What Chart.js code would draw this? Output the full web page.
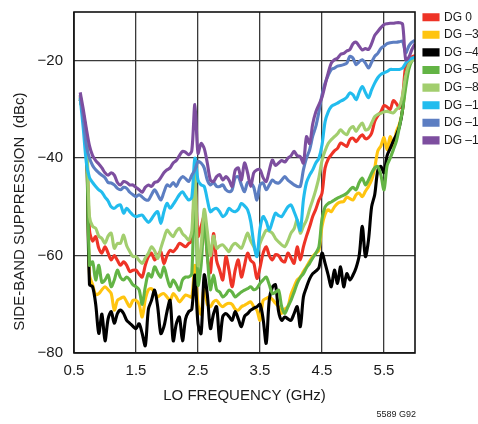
<!DOCTYPE html>
<html><head><meta charset="utf-8">
<script src="https://cdn.jsdelivr.net/npm/chart.js@4.4.1/dist/chart.umd.min.js"></script>
<style>
html,body{margin:0;padding:0;background:#fff;overflow:hidden;width:478px;height:424px}
#wrap{position:relative;width:478px;height:424px}
</style></head>
<body><div id="wrap"><canvas id="c" width="478" height="424"></canvas></div>
<script>
// ---------- DATA ----------
const freqGHz = [
0.60,0.65,0.70,0.75,0.80,0.85,0.90,0.95,1.00,1.05,
1.10,1.15,1.20,1.25,1.30,1.35,1.40,1.45,1.50,1.55,
1.60,1.65,1.70,1.75,1.80,1.85,1.90,1.95,2.00,2.05,
2.10,2.15,2.20,2.25,2.30,2.35,2.40,2.45,2.50,2.55,
2.60,2.65,2.70,2.75,2.80,2.85,2.90,2.95,3.00,3.05,
3.10,3.15,3.20,3.25,3.30,3.35,3.40,3.45,3.50,3.55,
3.60,3.65,3.70,3.75,3.80,3.85,3.90,3.95,4.00,4.05,
4.10,4.15,4.20,4.25,4.30,4.35,4.40,4.45,4.50,4.55,
4.60,4.65,4.70,4.75,4.80,4.85,4.90,4.95,5.00,5.05,
5.10,5.15,5.20,5.25,5.30,5.35,5.40,5.45,5.50,5.55,
5.60,5.65,5.70,5.75,5.80,5.85,5.90,5.95,6.00];

const dg0 = [
-27.3,-31,-35.5,-54.8,-57,-56.1,-58.5,-59.5,-58.2,-59.5,
-60.9,-60,-61,-62,-61.3,-62,-63.3,-63,-63,-63.8,
-64.4,-62,-60.2,-59.5,-60.9,-60,-59.2,-61.6,-60,-58.9,
-59.2,-58.5,-57.5,-57.8,-58.2,-57.5,-57,-45,-56,-54,
-52,-60,-63.5,-55.5,-61,-63,-65,-60.2,-63,-66.4,
-63,-60.9,-64.4,-62,-59.5,-61,-61.6,-64.7,-62.5,-59.5,
-58.2,-60,-60.9,-59.8,-60,-61,-61.3,-59.5,-60.5,-61.6,
-58.2,-60.9,-58.2,-56,-54.1,-52,-50.5,-48.6,-47.2,-42,
-40.2,-39.3,-38.5,-38,-36.9,-37.2,-37.6,-36.2,-35.9,-36.6,
-35.8,-35.2,-36,-35.8,-34.9,-32.5,-31.3,-30.5,-29.2,-29.5,
-30,-28.2,-28.8,-29.7,-27.3,-21,-19.8,-19.2,-19];

const dgMinus3 = [
-28,-31,-36,-64,-66,-68,-67.8,-67,-66.4,-67,
-67.8,-71.2,-69.2,-68.8,-68.5,-69.5,-70.5,-69.2,-69.2,-70,
-72.6,-69,-67,-66.8,-67.5,-68.5,-68,-67.8,-68.5,-69.2,
-67.8,-68.5,-69.5,-68.8,-68.1,-68.3,-68.5,-62,-70,-72,
-66,-70,-70.5,-69.5,-69.2,-70,-70.5,-70,-69.8,-70,
-71,-71.2,-70.5,-70.2,-69.8,-69.5,-70.5,-71.2,-73.3,-69.2,
-68.8,-68.5,-69,-69.8,-70.5,-71.9,-71,-70.5,-68,-66.4,
-65,-64.4,-63.3,-62.3,-61.2,-60.2,-59.5,-58.9,-54,-51.5,
-50.6,-51,-50,-49.3,-49,-48.9,-48,-48.3,-48.6,-47.5,
-47.2,-47.9,-46.8,-45.8,-44.5,-42,-38.5,-37.5,-35.8,-38.3,
-35.6,-37.6,-34.5,-33,-30,-24.6,-21,-19.8,-19.5];

const dgMinus4 = [
-28,-31,-36,-66,-66.4,-70,-76,-72,-77.5,-73,
-71.5,-73.9,-71.9,-71.2,-71.9,-73.3,-73.9,-74.5,-75,-74,
-76,-78.5,-71,-69.2,-67.1,-70.5,-76,-74.6,-71.5,-69.2,
-77.5,-74,-72.6,-77.5,-73,-71.5,-71,-64,-74,-76,
-64,-68,-75,-72,-70.5,-77.5,-72.5,-71.9,-72.5,-73.3,
-71.5,-73,-74.6,-72.5,-71.9,-71.2,-70.8,-70.5,-70,-73,
-78,-69,-66.5,-66,-71.5,-73.3,-72.6,-73,-73.3,-71.9,
-70.5,-74.6,-68.5,-66.5,-64.8,-63.7,-63.2,-62.5,-59.5,-61.6,
-64,-66.4,-63,-65.7,-62.3,-66.4,-63.7,-65,-64,-62.5,
-60,-54,-60.2,-56.8,-50,-47.5,-42.5,-41.7,-43,-39.5,
-38,-36.5,-35.2,-33.5,-30,-23.2,-21,-19.8,-19.5];

const dgMinus5 = [
-27.8,-31,-36,-62,-61.3,-65,-62,-65.5,-65,-64,
-66.4,-65,-63,-64.5,-65,-64.4,-65,-66,-66.4,-67,
-70,-66.4,-63.7,-64.4,-62.3,-63.5,-64.4,-62.3,-64.5,-66.4,
-65,-66,-67.1,-65,-64.4,-64.4,-63.7,-44,-66,-62,
-53,-60,-67,-64,-67,-67.5,-68.5,-68,-67.1,-67.5,
-68.5,-68,-67.5,-67.1,-66.8,-66.4,-67,-66.7,-65.7,-65,
-64.4,-66,-67.8,-67.5,-67.1,-70.5,-71.9,-70.5,-69.2,-67.5,
-65.7,-64.5,-63.7,-62.5,-61.6,-60.5,-59.5,-58.2,-52.5,-50,
-49.3,-49,-48.6,-48.2,-47.9,-47.6,-47.2,-46.5,-46,-46.5,
-45,-44.1,-45.5,-44.5,-43.1,-42,-41.7,-43.5,-46.5,-41.5,
-40,-38.3,-36.5,-33.5,-30,-25.5,-21.8,-20,-19.5];

const dgMinus8 = [
-27.5,-31,-35,-52,-54,-54.4,-56,-56.5,-57.5,-56,
-55.4,-58.5,-57.5,-57.5,-55.8,-58,-59.2,-60.2,-60.2,-61,
-61.6,-60.5,-59.5,-58.2,-59,-60.6,-58.5,-56.5,-54.8,-55.5,
-56.1,-55,-54.4,-55.5,-56.1,-56.8,-55,-43,-62,-58,
-50.5,-55,-60,-56,-58.5,-58,-57.8,-58.5,-59.2,-58,
-57.5,-58,-58.5,-57,-55.4,-57,-58.2,-59.5,-57.5,-56,
-54.8,-55,-55.4,-56.5,-57.2,-57.8,-58.2,-57,-55.4,-54.5,
-52.7,-55.4,-54,-52.7,-50.5,-48.6,-46.5,-44,-40.5,-38.5,
-37,-36.2,-35.6,-35,-34.2,-34.8,-35.2,-34,-33.5,-34.5,
-33.5,-32.8,-34.2,-34,-32.8,-31.5,-31,-30.8,-30.5,-30.4,
-30.6,-30.7,-30,-29.4,-27,-23,-20.8,-20,-19.5];

const dgMinus12 = [
-27.6,-34,-41,-44,-45,-45.8,-46.5,-47,-48,-48.8,
-50,-50.3,-49.8,-49.6,-51.3,-50.3,-51,-51.7,-52,-51.8,
-51.7,-52.5,-53.2,-52.5,-51.5,-51,-53.4,-51,-49.3,-50.3,
-49.5,-48.5,-47.5,-46.9,-47.8,-48.6,-48,-40,-44.5,-45.5,
-45.8,-48.5,-51,-50.5,-50.3,-51,-52,-51.5,-50.3,-50.8,
-51,-50.5,-49.3,-49.8,-50.6,-53,-57.5,-60.2,-54.5,-52,
-53,-54.8,-53,-51.3,-51.8,-52,-51,-50,-49.6,-51,
-52.7,-54.8,-48.6,-45,-43.5,-42.4,-41,-40,-37.3,-32.5,
-30.5,-29.4,-29,-28.7,-28.3,-28,-27.5,-26.6,-27,-28,
-26.5,-25.3,-26.5,-27.6,-26,-24.6,-23.5,-22.8,-22.5,-22.2,
-21.8,-21.8,-21.8,-21.8,-21.5,-20.5,-19.8,-19.5,-19.3];

const dgMinus16 = [
-27,-32,-37.5,-40,-41.5,-42.4,-43,-43.5,-44,-45,
-45.1,-45.5,-46.2,-46.5,-46,-46.2,-47,-47.5,-47.9,-47.5,
-48,-48.5,-48.6,-47.5,-46.5,-47.5,-48.6,-47,-45.5,-45.8,
-45,-45.8,-44.5,-43.8,-44.2,-44.8,-43.5,-42.4,-40.7,-41,
-42,-44.5,-45.5,-45,-45.8,-45.8,-45.5,-46.5,-46.9,-46.5,
-44,-43.8,-45.5,-46.9,-45,-45.1,-46,-48.6,-45.5,-45.1,
-46.5,-45.5,-44.5,-45,-45.1,-44.5,-43.8,-44.5,-45,-45.5,
-45.8,-45.8,-42.4,-40,-38.3,-35.5,-33.5,-30.5,-27,-24.6,
-23,-21.8,-21.5,-21.1,-21,-20.8,-20.5,-19.1,-19.5,-20.8,
-20.2,-19.8,-20.5,-21.5,-20.3,-19.1,-18.5,-17.5,-17,-16.5,
-16.3,-16.2,-16.2,-16.1,-16,-18.4,-17,-16.2,-15.8];

const dgMinus19 = [
-26.5,-30,-34,-37.5,-39.5,-40.5,-41.2,-42,-43,-43.5,
-43,-43.5,-45,-45.5,-44.8,-45,-45.5,-45.5,-46,-46.5,
-47,-46,-45.5,-45.8,-45,-44.8,-44,-43,-42.4,-42,
-41,-40.5,-39.5,-38.6,-38.8,-39.3,-38.5,-29,-39,-37,
-38,-41,-44.5,-44.8,-43.8,-43.4,-44.5,-43.8,-44.5,-45.8,
-42.5,-42,-44.5,-41,-43,-45.8,-43,-42.4,-42.4,-44,
-44.8,-42.5,-40.4,-41.5,-41,-40.5,-40.8,-40,-39.5,-38.6,
-39.5,-39.7,-41,-35.6,-37,-33,-30.5,-29,-27.5,-25,
-22.5,-20.5,-19.8,-19.5,-18.7,-18.5,-18,-17.7,-16.5,-16.2,
-17,-17.8,-17.5,-17.7,-16.5,-14.8,-14,-13.2,-12.6,-12.4,
-12.3,-12.3,-12.2,-12.2,-12.5,-19.8,-19.3,-17.7,-16.5];

const seriesNames = ['DG 0','DG \u20133','DG \u20134','DG \u20135','DG \u20138','DG \u201312','DG \u201316','DG \u201319'];
const seriesValues = [dg0, dgMinus3, dgMinus4, dgMinus5, dgMinus8, dgMinus12, dgMinus16, dgMinus19];
const xTickLabels = [0.5, 1.5, 2.5, 3.5, 4.5, 5.5];
const yTickLabels = [-80, -60, -40, -20];

// ---------- STYLE ----------
const seriesColors = ['#EE3326','#FFC40F','#000000','#63B445','#A2CE6E','#22BCEE','#5C7EC2','#7D4E9F'];
const FONT = "'Liberation Sans', Arial, sans-serif";
const TXT = '#1a1a1a';

const datasets = seriesNames.map((name, i) => ({
  label: name,
  data: freqGHz.map((f, j) => ({x: f, y: seriesValues[i][j]})),
  borderColor: seriesColors[i],
  backgroundColor: seriesColors[i],
  borderWidth: 3.1,
  pointRadius: 0,
  tension: 0.3,
  fill: false,
  order: 8 - i
}));

const framePlugin = {
  id: 'frame',
  afterLayout(chart) {
    const lg = chart.legend;
    if (lg) {
      const h = lg.bottom - lg.top, w = lg.right - lg.left;
      lg.top = 5.6; lg.bottom = lg.top + h;
      lg.left = chart.chartArea.right + 3.4; lg.right = lg.left + w;
    }
  },
  afterDatasetsDraw(chart) {
    const {ctx, chartArea: a} = chart;
    ctx.save();
    ctx.strokeStyle = '#111';
    ctx.lineWidth = 1.6;
    ctx.strokeRect(a.left, a.top, a.right - a.left, a.bottom - a.top);
    ctx.restore();
  },
  afterDraw(chart) {
    const ctx = chart.ctx;
    ctx.save();
    ctx.font = "9px " + FONT;
    ctx.fillStyle = TXT;
    ctx.textAlign = 'right';
    ctx.textBaseline = 'alphabetic';
    ctx.fillText('5589 G92', 416, 417);
    ctx.restore();
  }
};

new Chart(document.getElementById('c'), {
  type: 'line',
  data: {datasets},
  plugins: [framePlugin],
  options: {
    responsive: false,
    animation: false,
    devicePixelRatio: 1,
    layout: {padding: {top: 3, right: 0, bottom: 0, left: 0}},
    plugins: {
      tooltip: {enabled: false},
      legend: {
        position: 'right',
        align: 'start',
        maxWidth: 63,
        labels: {
          boxWidth: 14, boxHeight: 5, padding: 5.6,
          font: {family: FONT, size: 12},
          color: TXT,
          sort: (a, b) => a.datasetIndex - b.datasetIndex
        }
      }
    },
    scales: {
      x: {
        type: 'linear', min: 0.5, max: 6.0,
        afterBuildTicks: s => { s.ticks = xTickLabels.map(v => ({value: v})); },
        afterFit: s => { s.height = 71; },
        ticks: {font: {family: FONT, size: 15}, color: TXT, padding: 3, autoSkip: false, maxRotation: 0,
                callback: v => Number(v).toFixed(1)},
        grid: {color: '#3a3a3a', lineWidth: 1.3, drawTicks: true, tickLength: 6, tickColor: 'rgba(0,0,0,0)'},
        border: {display: false},
        title: {display: true, text: 'LO FREQUENCY (GHz)', font: {family: FONT, size: 15}, color: TXT,
                padding: {top: 0, bottom: 19}}
      },
      y: {
        type: 'linear', min: -80, max: -10,
        afterBuildTicks: s => { s.ticks = yTickLabels.map(v => ({value: v})); },
        afterFit: s => { s.width = 74; },
        ticks: {font: {family: FONT, size: 15}, color: TXT, padding: 3,
                callback: v => (v < 0 ? '\u2212' : '') + Math.abs(v)},
        grid: {color: '#3a3a3a', lineWidth: 1.3, drawTicks: true, tickLength: 8, tickColor: 'rgba(0,0,0,0)'},
        border: {display: false},
        title: {display: true, text: 'SIDE-BAND SUPPRESSION  (dBc)              ', font: {family: FONT, size: 15}, color: TXT,
                padding: {top: 11, bottom: 0}}
      }
    }
  }
});
</script>
</body></html>
